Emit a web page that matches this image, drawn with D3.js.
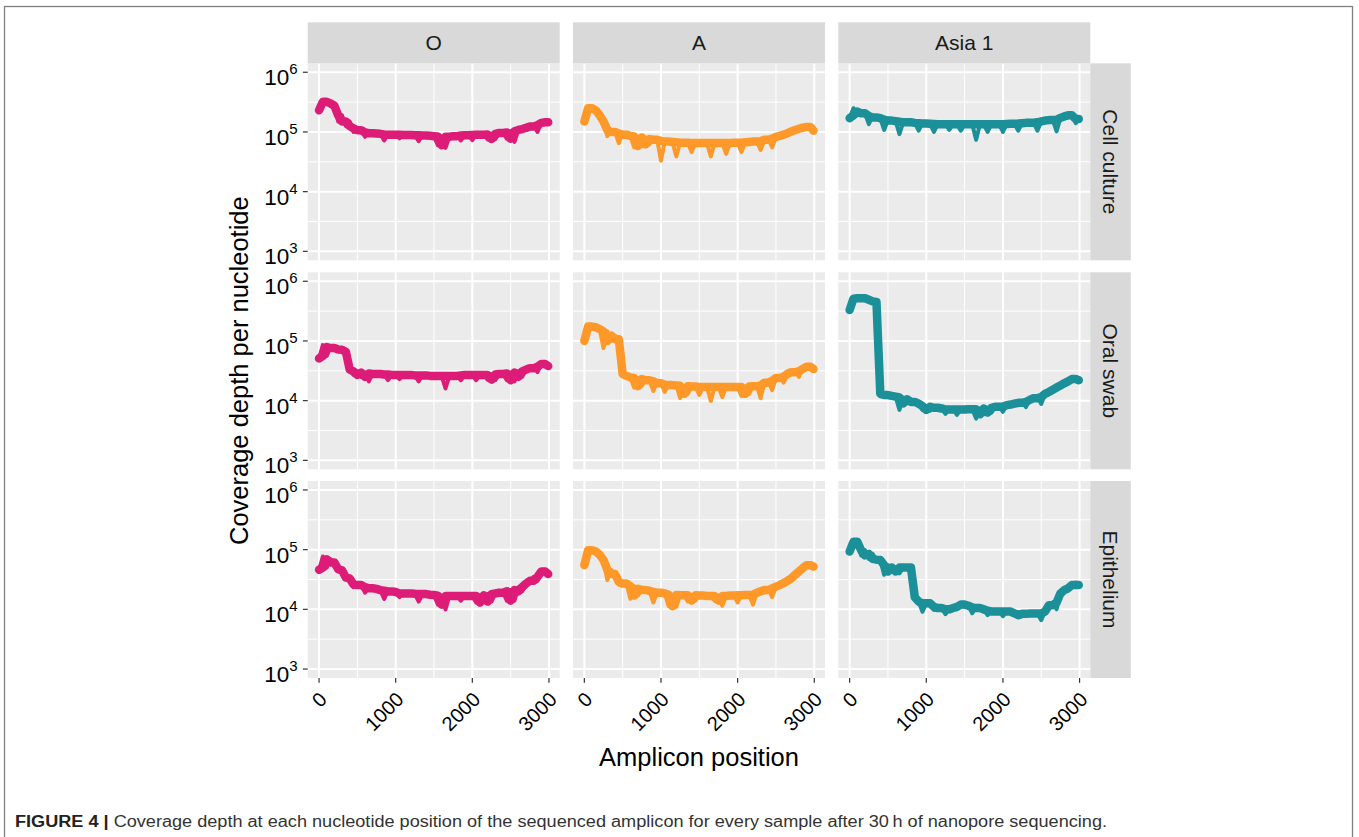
<html>
<head>
<meta charset="UTF-8">
<title>Figure 4: coverage depth</title>
<style>
  body { margin: 0; background: #fff; }
  svg text { font-family: "Liberation Sans", Arial, Helvetica, sans-serif; }
</style>
</head>
<body>
<svg id="chart"></svg>
<script src="https://d3js.org/d3.v7.min.js"></script>
<script>
// facet labels
const serotypes = ["O", "A", "Asia 1"];
const samples = ["Cell culture", "Oral swab", "Epithelium"];
const lineColors = ["#DD1C77", "#FE9929", "#1C9099"];

const positions = [0, 50, 100, 150, 200, 250, 300, 350, 400, 450,
  500, 550, 600, 650, 700, 750, 800, 850, 900, 950,
  1000, 1050, 1100, 1150, 1200, 1250, 1300, 1350, 1400, 1450,
  1500, 1550, 1600, 1650, 1700, 1750, 1800, 1850, 1900, 1950,
  2000, 2050, 2100, 2150, 2200, 2250, 2300, 2350, 2400, 2450,
  2500, 2550, 2600, 2650, 2700, 2750, 2800, 2850, 2900, 2950, 2990];

// coverage depth per nucleotide, one array per panel
const depthO_cell = [2.3e5, 3.3e5, 3.2e5, 3.0e5, 2.75e5, 1.5e5, 1.9e5, 1.25e5, 1.5e5, 1.0e5,
  1.15e5, 1.07e5, 8.3e4, 9.8e4, 9.5e4, 9.4e4, 9.3e4, 7.2e4, 9.1e4, 9.0e4,
  9.0e4, 7.8e4, 9.0e4, 8.9e4, 8.9e4, 8.8e4, 7.0e4, 8.8e4, 8.7e4, 8.6e4,
  8.5e4, 6.0e4, 8.4e4, 5.4e4, 8.3e4, 8.5e4, 8.7e4, 7.2e4, 8.8e4, 8.9e4,
  7.3e4, 9.0e4, 9.0e4, 9.1e4, 7.5e4, 9.3e4, 7.6e4, 9.6e4, 9.8e4, 7.7e4,
  1.03e5, 6.8e4, 1.08e5, 1.12e5, 1.17e5, 1.23e5, 1.3e5, 1.0e5, 1.42e5, 1.5e5, 1.45e5];
const depthA_cell = [1.5e5, 2.5e5, 2.5e5, 2.3e5, 1.9e5, 1.5e5, 8.5e4, 1.08e5, 1.0e5, 6.5e4,
  9.4e4, 9.0e4, 8.6e4, 5.5e4, 8.4e4, 5.8e4, 8.1e4, 6.2e4, 7.6e4, 7.4e4,
  3.3e4, 7.1e4, 6.9e4, 6.8e4, 3.9e4, 6.7e4, 6.6e4, 6.6e4, 4.6e4, 6.5e4,
  6.5e4, 6.5e4, 6.5e4, 3.9e4, 6.5e4, 6.5e4, 6.5e4, 4.3e4, 6.5e4, 6.6e4,
  6.6e4, 4.6e4, 6.7e4, 6.8e4, 6.9e4, 7.0e4, 5.0e4, 7.4e4, 7.7e4, 5.5e4,
  8.3e4, 8.6e4, 9.0e4, 9.5e4, 1.02e5, 1.08e5, 1.13e5, 1.18e5, 1.21e5, 1.23e5, 1.05e5];
const depthAsia_cell = [1.7e5, 2.5e5, 1.9e5, 2.2e5, 2.05e5, 1.35e5, 1.85e5, 1.75e5, 1.7e5, 1.08e5,
  1.6e5, 1.55e5, 1.52e5, 9.2e4, 1.48e5, 1.46e5, 1.45e5, 1.42e5, 1.05e5, 1.4e5,
  1.38e5, 1.37e5, 1.0e5, 1.36e5, 1.35e5, 1.35e5, 1.08e5, 1.35e5, 1.35e5, 1.05e5,
  1.35e5, 1.35e5, 1.34e5, 7.4e4, 1.34e5, 1.34e5, 1.0e5, 1.35e5, 1.35e5, 1.35e5,
  1.0e5, 1.36e5, 1.37e5, 1.38e5, 1.05e5, 1.4e5, 1.42e5, 1.43e5, 1.45e5, 1.05e5,
  1.5e5, 1.55e5, 1.58e5, 1.6e5, 1.02e5, 1.72e5, 1.82e5, 1.9e5, 1.9e5, 1.4e5, 1.65e5];
const depthO_oral = [5.1e4, 8.5e4, 5.6e4, 7.9e4, 7.6e4, 7.1e4, 7.2e4, 6.6e4, 3.3e4, 2.7e4,
  3.1e4, 2.5e4, 2.95e4, 2.1e4, 2.85e4, 2.8e4, 2.8e4, 2.75e4, 2.2e4, 2.75e4,
  2.7e4, 2.3e4, 2.7e4, 2.7e4, 2.7e4, 2.65e4, 2.1e4, 2.65e4, 2.65e4, 2.6e4,
  2.6e4, 2.6e4, 2.6e4, 1.6e4, 2.6e4, 2.6e4, 2.65e4, 2.2e4, 2.7e4, 2.7e4,
  2.7e4, 2.2e4, 2.7e4, 2.7e4, 2.25e4, 2.75e4, 2.2e4, 2.8e4, 2.85e4, 2.2e4,
  2.95e4, 2.1e4, 3.1e4, 2.5e4, 3.3e4, 3.5e4, 3.7e4, 3.0e4, 4.1e4, 4.3e4, 3.8e4];
const depthA_oral = [1.0e5, 1.74e5, 1.74e5, 1.7e5, 1.58e5, 7.6e4, 1.45e5, 1.0e5, 1.23e5, 1.07e5,
  2.8e4, 2.6e4, 2.45e4, 1.65e4, 2.4e4, 1.75e4, 2.3e4, 2.2e4, 1.45e4, 2.1e4,
  1.95e4, 1.4e4, 1.85e4, 1.82e4, 1.8e4, 1.1e4, 1.78e4, 1.3e4, 1.75e4, 1.72e4,
  1.25e4, 1.7e4, 1.7e4, 9.9e3, 1.7e4, 1.7e4, 1.15e4, 1.7e4, 1.7e4, 1.7e4,
  1.7e4, 1.2e4, 1.72e4, 1.3e4, 1.75e4, 1.78e4, 1.1e4, 2.0e4, 2.15e4, 1.5e4,
  2.4e4, 2.5e4, 2.0e4, 2.8e4, 3.0e4, 3.1e4, 2.5e4, 3.4e4, 3.7e4, 4.0e4, 3.4e4];
const depthAsia_oral = [3.3e5, 5.1e5, 5.2e5, 5.2e5, 5.2e5, 4.9e5, 4.6e5, 4.5e5, 1.3e4, 1.24e4,
  1.24e4, 1.2e4, 1.17e4, 7.0e3, 1.13e4, 9.0e3, 1.05e4, 9.5e3, 8.9e3, 7.0e3,
  8.1e3, 6.8e3, 7.9e3, 7.6e3, 7.4e3, 6.0e3, 7.1e3, 7.1e3, 5.8e3, 7.1e3,
  7.1e3, 7.2e3, 7.2e3, 5.0e3, 7.4e3, 5.9e3, 7.6e3, 6.3e3, 7.9e3, 8.0e3,
  6.5e3, 8.4e3, 8.6e3, 8.9e3, 9.2e3, 9.5e3, 7.8e3, 1.03e4, 1.1e4, 1.15e4,
  8.8e3, 1.3e4, 1.4e4, 1.52e4, 1.66e4, 1.8e4, 1.95e4, 2.1e4, 2.3e4, 2.35e4, 2.2e4];
const depthO_epi = [4.6e4, 7.7e4, 5.0e4, 6.9e4, 6.1e4, 4.5e4, 4.7e4, 3.4e4, 3.3e4, 2.35e4,
  2.6e4, 2.55e4, 1.9e4, 2.35e4, 2.25e4, 2.2e4, 2.1e4, 1.5e4, 2.05e4, 2.0e4,
  1.95e4, 1.6e4, 1.85e4, 1.85e4, 1.85e4, 1.82e4, 1.35e4, 1.8e4, 1.8e4, 1.76e4,
  1.74e4, 1.2e4, 1.7e4, 1.0e4, 1.68e4, 1.68e4, 1.68e4, 1.4e4, 1.68e4, 1.68e4,
  1.68e4, 1.3e4, 1.72e4, 1.3e4, 1.8e4, 1.35e4, 1.85e4, 1.9e4, 2.0e4, 1.4e4,
  2.1e4, 1.4e4, 2.35e4, 2.0e4, 2.7e4, 3.0e4, 3.5e4, 3.0e4, 4.3e4, 4.6e4, 3.9e4];
const depthA_epi = [5.5e4, 9.8e4, 9.8e4, 9.3e4, 8.2e4, 6.7e4, 3.1e4, 4.6e4, 3.9e4, 2.6e4,
  2.9e4, 2.7e4, 1.5e4, 2.45e4, 1.7e4, 2.2e4, 2.1e4, 2.05e4, 1.3e4, 1.95e4,
  1.9e4, 1.85e4, 1.13e4, 1.75e4, 1.1e4, 1.74e4, 1.72e4, 1.35e4, 1.72e4, 1.4e4,
  1.72e4, 1.7e4, 1.68e4, 1.68e4, 1.4e4, 1.68e4, 1.15e4, 1.68e4, 1.7e4, 1.72e4,
  1.3e4, 1.72e4, 1.74e4, 1.76e4, 1.2e4, 1.9e4, 2.0e4, 2.1e4, 2.25e4, 1.6e4,
  2.4e4, 2.55e4, 2.75e4, 3.0e4, 3.3e4, 3.8e4, 4.3e4, 4.9e4, 5.5e4, 5.9e4, 5.2e4];
const depthAsia_epi = [9.3e4, 1.42e5, 1.35e5, 8.0e4, 9.8e4, 7.0e4, 8.5e4, 6.8e4, 6.7e4, 3.8e4,
  5.5e4, 4.3e4, 5.0e4, 4.0e4, 5.0e4, 5.0e4, 5.0e4, 1.6e4, 1.35e4, 9.1e3,
  1.26e4, 1.26e4, 9.8e3, 1.1e4, 1.05e4, 8.3e3, 1.0e4, 1.05e4, 1.1e4, 1.24e4,
  1.2e4, 1.15e4, 8.6e3, 1.08e4, 1.05e4, 1.0e4, 8.0e3, 9.5e3, 9.2e3, 9.2e3,
  7.7e3, 9.2e3, 9.2e3, 8.0e3, 8.6e3, 7.7e3, 8.4e3, 8.5e3, 8.6e3, 8.5e3,
  6.6e3, 9.2e3, 1.17e4, 1.3e4, 1.0e4, 1.85e4, 2.1e4, 2.25e4, 2.55e4, 2.8e4, 2.55e4];

// rows = samples, columns = serotypes
const depthGrid = [
  [depthO_cell, depthA_cell, depthAsia_cell],
  [depthO_oral, depthA_oral, depthAsia_oral],
  [depthO_epi, depthA_epi, depthAsia_epi]
];

const xTicks = [0, 1000, 2000, 3000];
const xMinor = [500, 1500, 2500];
const yExponents = [3, 4, 5, 6];
const yMinorExp = [3.5, 4.5, 5.5];

const captionBold = "FIGURE 4 | ";
const captionText = "Coverage depth at each nucleotide position of the sequenced amplicon for every sample after 30\u2009h of nanopore sequencing.";

// ---- layout ----
const width = 1359, height = 837;
const colLeft = [307.7, 573, 838.3];
const rowTop = [63.3, 272.3, 481];
const panelW = 252, panelH = 197;
const stripTop = 22.3, stripH = 41;
const rightStripX = 1090.3, rightStripW = 40.5;

const svg = d3.select("#chart")
  .attr("width", width)
  .attr("height", height);

// outer figure frame (open at the bottom edge of the crop)
svg.append("rect")
  .attr("x", 4.5).attr("y", 6.5)
  .attr("width", 1348).attr("height", 850)
  .attr("fill", "none")
  .attr("stroke", "#808080")
  .attr("stroke-width", 1.3);

const x = d3.scaleLinear().domain([-148, 3140]).range([0, panelW]);
const y = d3.scaleLog().domain([Math.pow(10, 2.85), Math.pow(10, 6.15)]).range([panelH, 0]);

const line = d3.line()
  .x(d => x(d[0]))
  .y(d => y(d[1]));

// running median of 3 -> the dense body of the coverage trace, without the single-point dips
function body(series) {
  return series.map((v, i) => {
    if (i == 0 || i == series.length - 1) return v;
    return d3.median([series[i - 1], v, series[i + 1]]);
  });
}

depthGrid.forEach((row, r) => {
  row.forEach((series, c) => {
    const g = svg.append("g")
      .attr("transform", `translate(${colLeft[c]},${rowTop[r]})`);

    g.append("rect")
      .attr("width", panelW).attr("height", panelH)
      .attr("fill", "#ebebeb");

    // minor grid
    yMinorExp.forEach(e => {
      g.append("line")
        .attr("x1", 0).attr("x2", panelW)
        .attr("y1", y(Math.pow(10, e))).attr("y2", y(Math.pow(10, e)))
        .attr("stroke", "#fff").attr("stroke-width", 1);
    });
    xMinor.forEach(v => {
      g.append("line")
        .attr("y1", 0).attr("y2", panelH)
        .attr("x1", x(v)).attr("x2", x(v))
        .attr("stroke", "#fff").attr("stroke-width", 1);
    });
    // major grid
    yExponents.forEach(e => {
      g.append("line")
        .attr("x1", 0).attr("x2", panelW)
        .attr("y1", y(Math.pow(10, e))).attr("y2", y(Math.pow(10, e)))
        .attr("stroke", "#fff").attr("stroke-width", 2);
    });
    xTicks.forEach(v => {
      g.append("line")
        .attr("y1", 0).attr("y2", panelH)
        .attr("x1", x(v)).attr("x2", x(v))
        .attr("stroke", "#fff").attr("stroke-width", 2);
    });

    const smooth = body(series);
    g.append("path")
      .datum(positions.map((p, i) => [p, smooth[i]]))
      .attr("d", line)
      .attr("fill", "none")
      .attr("stroke", lineColors[c])
      .attr("stroke-width", 8.5)
      .attr("stroke-linejoin", "round")
      .attr("stroke-linecap", "round");

    g.append("path")
      .datum(positions.map((p, i) => [p, series[i]]))
      .attr("d", line)
      .attr("fill", "none")
      .attr("stroke", lineColors[c])
      .attr("stroke-width", 4)
      .attr("stroke-linejoin", "round")
      .attr("stroke-linecap", "round");

    // y axis on first column
    if (c == 0) {
      yExponents.forEach(e => {
        const ty = y(Math.pow(10, e));
        g.append("line")
          .attr("x1", -4.8).attr("x2", 0)
          .attr("y1", ty).attr("y2", ty)
          .attr("stroke", "#333").attr("stroke-width", 1.2);
        const t = g.append("text")
          .attr("x", -10).attr("y", ty + 13)
          .attr("text-anchor", "end")
          .attr("font-size", "22.5px")
          .attr("fill", "#000")
          .text("10");
        t.append("tspan")
          .attr("dy", -11)
          .attr("font-size", "15px")
          .text(e);
      });
    }

    // x axis on bottom row
    if (r == 2) {
      xTicks.forEach(v => {
        g.append("line")
          .attr("x1", x(v)).attr("x2", x(v))
          .attr("y1", panelH).attr("y2", panelH + 4.8)
          .attr("stroke", "#333").attr("stroke-width", 1.2);
        g.append("text")
          .attr("transform", `translate(${x(v) - 1},${panelH + 12.5}) rotate(-45)`)
          .attr("text-anchor", "end")
          .attr("dy", "0.72em")
          .attr("font-size", "20px")
          .attr("fill", "#000")
          .text(v);
      });
    }
  });
});

// column strips
serotypes.forEach((s, c) => {
  svg.append("rect")
    .attr("x", colLeft[c]).attr("y", stripTop)
    .attr("width", panelW).attr("height", stripH)
    .attr("fill", "#d9d9d9");
  svg.append("text")
    .attr("x", colLeft[c] + panelW / 2)
    .attr("y", stripTop + stripH / 2 + 7.5)
    .attr("text-anchor", "middle")
    .attr("font-size", "21px")
    .attr("fill", "#1a1a1a")
    .text(s);
});

// row strips
samples.forEach((s, r) => {
  svg.append("rect")
    .attr("x", rightStripX).attr("y", rowTop[r])
    .attr("width", rightStripW).attr("height", panelH)
    .attr("fill", "#d9d9d9");
  const cx = rightStripX + rightStripW / 2 - 7.5, cy = rowTop[r] + panelH / 2;
  svg.append("text")
    .attr("transform", `translate(${cx},${cy}) rotate(90)`)
    .attr("text-anchor", "middle")
    .attr("font-size", "21px")
    .attr("fill", "#1a1a1a")
    .text(s);
});

// axis titles
svg.append("text")
  .attr("transform", `translate(248,${(rowTop[0] + rowTop[2] + panelH) / 2}) rotate(-90)`)
  .attr("text-anchor", "middle")
  .attr("font-size", "25.5px")
  .attr("fill", "#000")
  .text("Coverage depth per nucleotide");

svg.append("text")
  .attr("x", (colLeft[0] + colLeft[2] + panelW) / 2)
  .attr("y", 766)
  .attr("text-anchor", "middle")
  .attr("font-size", "25.5px")
  .attr("fill", "#000")
  .text("Amplicon position");

// caption
const cap = svg.append("text")
  .attr("x", 15).attr("y", 827)
  .attr("font-size", "16px")
  .attr("textLength", 1092)
  .attr("lengthAdjust", "spacingAndGlyphs");
cap.append("tspan")
  .attr("font-weight", "bold")
  .attr("fill", "#222")
  .text(captionBold);
cap.append("tspan")
  .attr("fill", "#333")
  .text(captionText);
</script>
</body>
</html>
